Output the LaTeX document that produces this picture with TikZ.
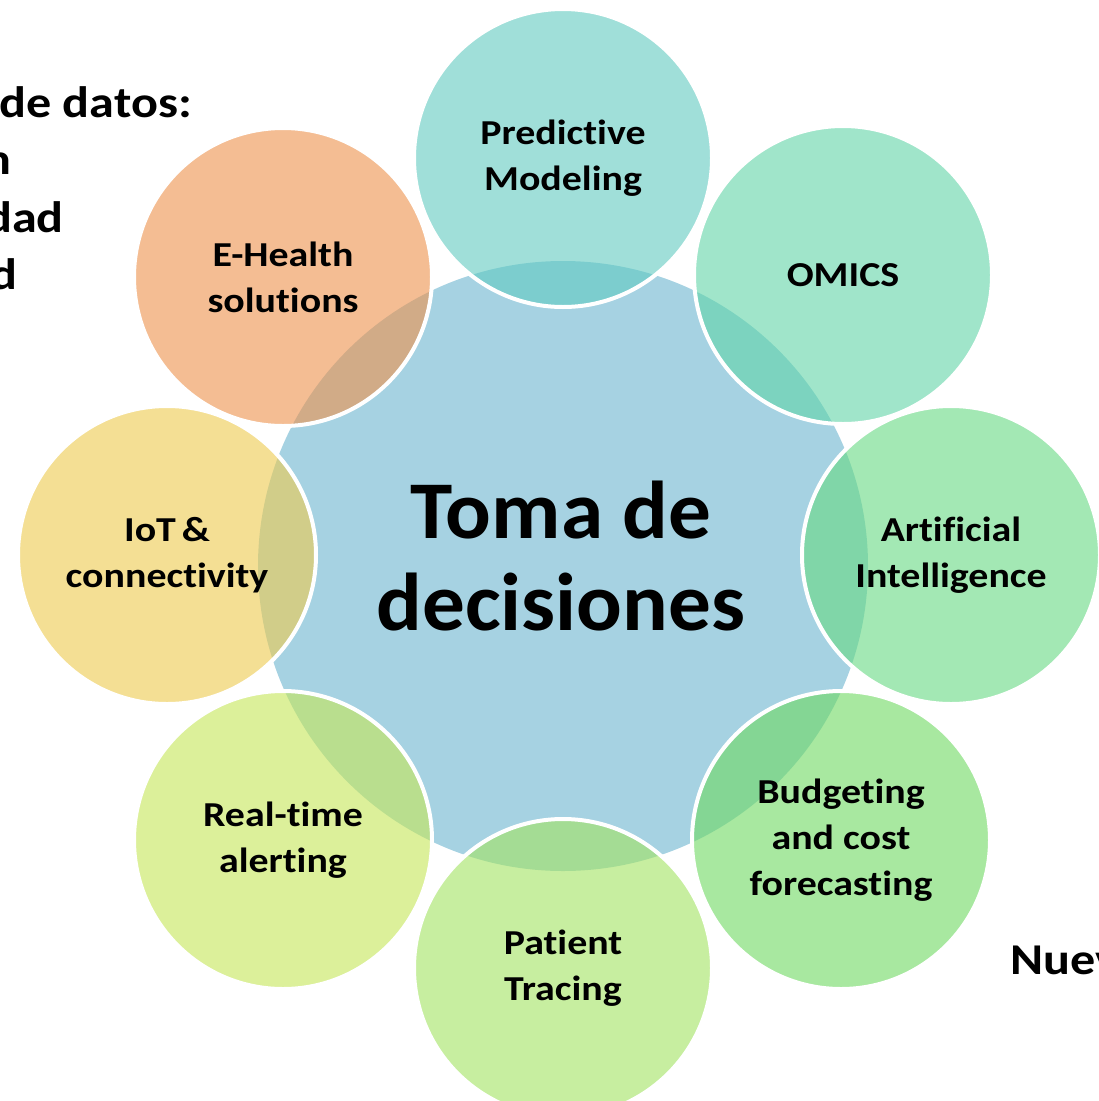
\documentclass[tikz,border=0pt]{standalone}
\usepackage{fontspec}
\setmainfont{Carlito}[Ligatures=NoCommon,Contextuals=NoAlternate]
\newfontfamily\bubblefont{Carlito}[FakeStretch=1.14,Ligatures=NoCommon,Contextuals=NoAlternate]
\newfontfamily\titlefont{Carlito}[FakeStretch=1.04,Ligatures=NoCommon,Contextuals=NoAlternate]
\definecolor{cCentral}{RGB}{166,210,226}
\definecolor{cPred}{RGB}{97,203,193}
\definecolor{cOmics}{RGB}{97,213,168}
\definecolor{cAI}{RGB}{103,217,130}
\definecolor{cBudget}{RGB}{110,217,97}
\definecolor{cPatient}{RGB}{163,227,97}
\definecolor{cAlert}{RGB}{198,230,87}
\definecolor{cIoT}{RGB}{238,202,78}
\definecolor{cEHealth}{RGB}{238,145,75}
\begin{document}
\begin{tikzpicture}[x=1pt,y=-1pt,
  bubble/.style={circle, minimum size=298pt, inner sep=0pt, fill=#1,
    fill opacity=0.6, text opacity=1, draw=white, draw opacity=1,
    line width=4pt, align=center,
    font=\bubblefont\fontsize{35}{46}\selectfont\bfseries},
  sidetext/.style={inner sep=0pt, font=\bubblefont\fontsize{44}{48}\selectfont\bfseries}]
\clip (0,0) rectangle (1099,1101);
\fill[white] (0,0) rectangle (1099,1101);
% side text fragments
\node[sidetext, anchor=base east] (s1) at (192,117) {de datos:};
\node[sidetext, anchor=base east] (s2) at (12,174) {n};
\node[sidetext, anchor=base east] (s3) at (64,232) {dad};
\node[sidetext, anchor=base east] (s4) at (18,289) {d};
\node[sidetext, anchor=base west] (s5) at (1010,974) {Nuev};
% central circle
\node[circle, minimum size=610pt, inner sep=0pt, fill=cCentral] (hub) at (563,566) {};
\node[align=center, font=\titlefont\fontsize{82}{92}\selectfont\bfseries] (title) at (561,556) {Toma de\\decisiones};
% outer circles
\node[bubble=cPred] (pred) at (563,158) {Predictive\\Modeling};
\node[bubble=cOmics] (omics) at (843,275) {OMICS};
\node[bubble=cAI] (ai) at (951,555) {Artificial\\Intelligence};
\node[bubble=cBudget] (budget) at (841,840) {Budgeting\\and cost\\forecasting};
\node[bubble=cPatient] (patient) at (563,968) {Patient\\Tracing};
\node[bubble=cAlert] (alert) at (283,840) {Real-time\\alerting};
\node[bubble=cIoT] (iot) at (167,555) {IoT\,\&\\connectivity};
\node[bubble=cEHealth] (ehealth) at (283,277) {E-Health\\solutions};
\end{tikzpicture}
\end{document}
